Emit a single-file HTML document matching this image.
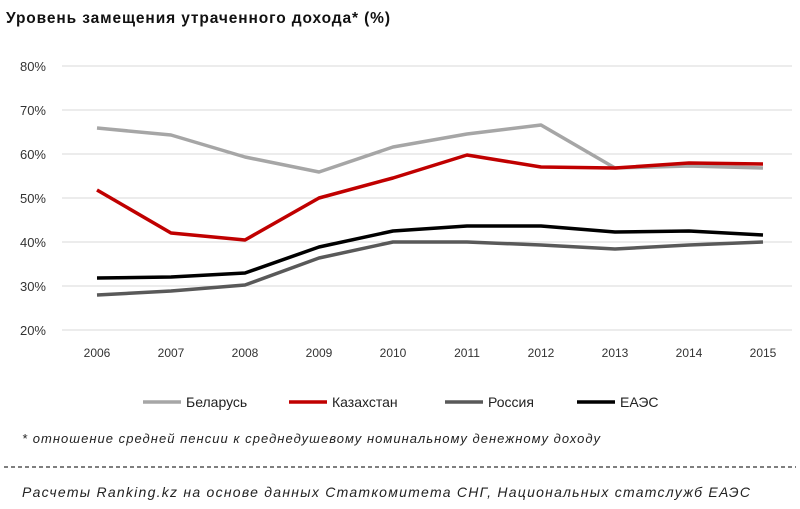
<!DOCTYPE html>
<html><head><meta charset="utf-8"><style>
body{margin:0;background:#fff;}
svg{display:block;font-family:"Liberation Sans","DejaVu Sans",sans-serif;}
</style></head><body>
<svg width="800" height="509" viewBox="0 0 800 509" xmlns="http://www.w3.org/2000/svg">
<rect width="800" height="509" fill="#fff"/>
<text x="6" y="23" font-size="15.5" font-weight="bold" textLength="384" lengthAdjust="spacing" fill="#111">Уровень замещения утраченного дохода* (%)</text>
<g stroke="#d9d9d9" stroke-width="1">
<line x1="62" x2="792" y1="66" y2="66"/><line x1="62" x2="792" y1="110" y2="110"/>
<line x1="62" x2="792" y1="154" y2="154"/><line x1="62" x2="792" y1="198" y2="198"/>
<line x1="62" x2="792" y1="242" y2="242"/><line x1="62" x2="792" y1="286" y2="286"/>
<line x1="62" x2="792" y1="330" y2="330"/>
</g>
<g font-size="13" fill="#333" text-anchor="end">
<text x="46" y="71">80%</text><text x="46" y="115">70%</text><text x="46" y="159">60%</text>
<text x="46" y="203">50%</text><text x="46" y="247">40%</text><text x="46" y="291">30%</text><text x="46" y="335">20%</text>
</g>
<g font-size="12" fill="#333" text-anchor="middle">
<text x="97" y="357">2006</text><text x="171" y="357">2007</text><text x="245" y="357">2008</text>
<text x="319" y="357">2009</text><text x="393" y="357">2010</text><text x="467" y="357">2011</text>
<text x="541" y="357">2012</text><text x="615" y="357">2013</text><text x="689" y="357">2014</text><text x="763" y="357">2015</text>
</g>
<g fill="none" stroke-width="3.5" stroke-linejoin="round">
<polyline stroke="#a6a6a6" points="97,128 171,135 245,157 319,172 393,147 467,134 541,125 615,168 689,166 763,168"/>
<polyline stroke="#c00000" points="97,190 171,233 245,240 319,198 393,178 467,155 541,167 615,168 689,163 763,164"/>
<polyline stroke="#595959" points="97,295 171,291 245,285 319,258 393,242 467,242 541,245 615,249 689,245 763,242"/>
<polyline stroke="#000" points="97,278 171,277 245,273 319,247 393,231 467,226 541,226 615,232 689,231 763,235"/>
</g>
<g stroke-width="3.5">
<line x1="143" x2="181" y1="402" y2="402" stroke="#a6a6a6"/>
<line x1="289" x2="327" y1="402" y2="402" stroke="#c00000"/>
<line x1="445" x2="483" y1="402" y2="402" stroke="#595959"/>
<line x1="577" x2="615" y1="402" y2="402" stroke="#000"/>
</g>
<g font-size="14" fill="#222">
<text x="186" y="407">Беларусь</text><text x="332" y="407">Казахстан</text>
<text x="488" y="407">Россия</text><text x="620" y="407">ЕАЭС</text>
</g>
<text x="22" y="443" font-size="13" font-style="italic" fill="#222" textLength="578" lengthAdjust="spacing">* отношение средней пенсии к среднедушевому номинальному денежному доходу</text>
<line x1="4" x2="796" y1="467" y2="467" stroke="#333" stroke-width="1.2" stroke-dasharray="4,3"/>
<text x="22" y="497" font-size="14" font-style="italic" fill="#222" textLength="728" lengthAdjust="spacing">Расчеты Ranking.kz на основе данных  Статкомитета СНГ, Национальных  статслужб ЕАЭС</text>
</svg>
</body></html>
